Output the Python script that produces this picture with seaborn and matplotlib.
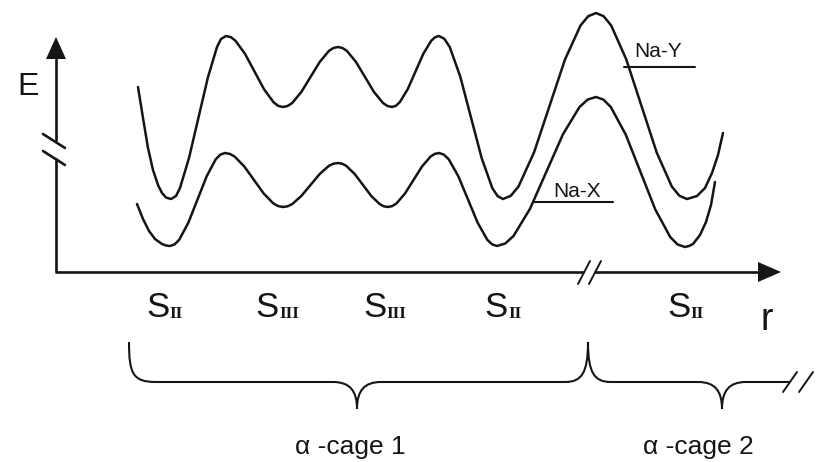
import matplotlib
matplotlib.use("Agg")
import matplotlib.pyplot as plt
from matplotlib.patches import Polygon, PathPatch
from matplotlib.path import Path
import numpy as np
import pandas as pd
import seaborn as sns

# ---------------- data (r = horizontal position, E = energy) -------------
r_nay = [138, 143, 148, 153, 158, 162, 166, 171,
         176, 180, 189, 198.5, 208, 217, 221, 226,
         231, 235.5, 245, 254.5, 264, 273.5, 278, 283,
         287.6, 292.2, 301.3, 310.5, 319.7, 328.8, 333.4, 338,
         342.5, 347, 356, 365, 374, 383, 387.5, 392,
         395.9, 399.8, 407.7, 415.5, 423.3, 431.2, 435.1, 439,
         444.3, 449.7, 460.3, 471, 481.7, 492.3, 497.7, 503,
         510.75, 518.5, 534, 549.5, 565, 580.5, 588.25, 596,
         603.6, 611.2, 626.3, 641.5, 656.7, 671.8, 679.4, 687,
         697, 705, 712, 718, 723]
E_nay = [375, 344, 314, 292, 277, 269, 264.5, 263,
         266, 274, 304, 344.5, 385, 415, 423, 426,
         424.8, 421.2, 408.2, 390.5, 372.8, 359.8, 356.2, 355,
         356, 359, 370, 385, 400, 411, 414, 415,
         414, 411, 400, 385, 370, 359, 356, 355,
         356.2, 359.8, 372.8, 390.5, 408.2, 421.2, 424.8, 426,
         423.2, 415.1, 385.3, 344.5, 303.8, 273.9, 265.8, 263,
         266.2, 275.5, 309.5, 356, 402.5, 436.5, 445.8, 449,
         445.8, 436.5, 402.5, 356, 309.5, 275.5, 266.2, 263,
         266, 274, 289, 307, 329]

r_nax = [137, 143, 149, 155, 162, 166, 170,
         174.6, 179.2, 188.3, 197.5, 206.7, 215.8, 220.4, 225,
         229.8, 234.7, 244.3, 254, 263.7, 273.3, 278.2, 283,
         287.6, 292.2, 301.3, 310.5, 319.7, 328.8, 333.4, 338,
         342.2, 346.3, 354.7, 363, 371.3, 379.7, 383.8, 388,
         392.25, 396.5, 405, 413.5, 422, 430.5, 434.75, 439,
         443.8, 448.7, 458.3, 468, 477.7, 487.3, 492.2, 497,
         505.25, 513.5, 530, 546.5, 563, 579.5, 587.75, 596,
         603.4, 610.8, 625.7, 640.5, 655.3, 670.2, 677.6, 685,
         689, 693, 700, 706, 711, 715]
E_nax = [258, 243, 231, 223, 218, 216.5, 216,
         217.6, 222.2, 239.2, 262.5, 285.8, 302.8, 307.4, 309,
         308.1, 305.4, 295.5, 282, 268.5, 258.6, 255.9, 255,
         255.7, 257.9, 266, 277, 288, 296.1, 298.3, 299,
         298.3, 296.1, 288, 277, 266, 257.9, 255.7, 255,
         255.9, 258.6, 268.5, 282, 295.5, 305.4, 308.1, 309,
         307.4, 302.8, 285.8, 262.5, 239.2, 222.2, 217.6, 216,
         218.5, 226, 253.2, 290.5, 327.8, 355, 362.5, 365,
         362.4, 355, 327.5, 290, 252.5, 225, 217.5, 215,
         216, 218, 227, 240, 257, 280]

series_names = ["Na-Y", "Na-X"]
site_main = ["S", "S", "S", "S", "S"]
site_sub = ["II", "III", "III", "II", "II"]
cage_labels = ["\u03b1 -cage 1", "\u03b1 -cage 2"]

# ---------------- layout (figure pixel-based coordinates, y measured upward) -------------
W, H = 819, 462
site_x = [157.5, 267, 375, 496.5, 679]
site_sub_x = [169.5, 279, 386.5, 508.5, 690.5]
cage_x = [350, 698]

sns.set_theme(style="white")
plt.rcParams["font.family"] = ["Liberation Sans", "DejaVu Sans"]

fig = plt.figure(figsize=(W / 100, H / 100), dpi=100)
ax = fig.add_axes([0, 0, 1, 1])
ax.set_xlim(0, W)
ax.set_ylim(0, H)
ax.axis("off")

ink = "#151515"

df = pd.concat([
    pd.DataFrame({"r": r_nay, "E": E_nay, "series": series_names[0]}),
    pd.DataFrame({"r": r_nax, "E": E_nax, "series": series_names[1]}),
])
sns.lineplot(data=df, x="r", y="E", hue="series", units="series", estimator=None,
             sort=False, palette={series_names[0]: ink, series_names[1]: ink},
             linewidth=1.8, legend=False, ax=ax, solid_joinstyle="round", solid_capstyle="round")

axlw = 1.9
# y axis (with break)
ax.plot([56, 56], [190, 304], color=ink, lw=axlw, solid_capstyle="butt")
ax.plot([56, 56], [321, 405], color=ink, lw=axlw, solid_capstyle="butt")
ax.plot([43, 65], [328, 314], color=ink, lw=axlw)
ax.plot([43, 65], [311, 297], color=ink, lw=axlw)
ax.add_patch(Polygon([[56, 425], [46, 403], [66, 403]], closed=True, color=ink, lw=0))
# x axis (with break)
ax.plot([55, 584], [190, 190], color=ink, lw=axlw, solid_capstyle="butt")
ax.plot([594, 760], [190, 190], color=ink, lw=axlw, solid_capstyle="butt")
ax.plot([578, 590], [178, 201], color=ink, lw=1.4)
ax.plot([589, 601], [178, 201], color=ink, lw=1.4)
ax.add_patch(Polygon([[781, 190], [758, 200], [758, 180]], closed=True, color=ink, lw=0))

# labels
ax.text(28, 367, "E", fontsize=23, color=ink, ha="center", va="baseline")
ax.text(767, 132, "r", fontsize=27, color=ink, ha="center", va="baseline")
ax.text(658, 405, series_names[0], fontsize=15, color=ink, ha="center", va="baseline")
ax.plot([624, 695], [395, 395], color=ink, lw=1.5)
ax.text(577.5, 265, series_names[1], fontsize=15, color=ink, ha="center", va="baseline")
ax.plot([533, 613], [260, 260], color=ink, lw=1.5)

for sx, ssx, m, s in zip(site_x, site_sub_x, site_main, site_sub):
    ax.text(sx, 145, m, fontsize=25, color=ink, ha="center", va="baseline")
    ax.text(ssx, 144, s, fontsize=12.5, color=ink, ha="left", va="baseline",
            family=["Liberation Serif", "DejaVu Serif"], fontweight="bold")

# curly braces
Y = lambda y: H - y
verts = [
    (129, Y(342)), (129, Y(374)), (133, Y(382)), (156, Y(382)),
    (333, Y(382)),
    (350, Y(382)), (357, Y(391)), (357, Y(409)),
    (357, Y(391)), (364, Y(382)), (381, Y(382)),
    (565, Y(382)),
    (581, Y(382)), (588, Y(374)), (588, Y(342)),
    (588, Y(374)), (595, Y(382)), (611, Y(382)),
    (698, Y(382)),
    (715, Y(382)), (722, Y(391)), (722, Y(409)),
    (722, Y(391)), (729, Y(382)), (746, Y(382)),
    (790, Y(382)),
]
codes = [Path.MOVETO, Path.CURVE4, Path.CURVE4, Path.CURVE4,
         Path.LINETO,
         Path.CURVE4, Path.CURVE4, Path.CURVE4,
         Path.CURVE4, Path.CURVE4, Path.CURVE4,
         Path.LINETO,
         Path.CURVE4, Path.CURVE4, Path.CURVE4,
         Path.CURVE4, Path.CURVE4, Path.CURVE4,
         Path.LINETO,
         Path.CURVE4, Path.CURVE4, Path.CURVE4,
         Path.CURVE4, Path.CURVE4, Path.CURVE4,
         Path.LINETO]
ax.add_patch(PathPatch(Path(verts, codes), facecolor="none", edgecolor=ink, lw=1.5))
ax.plot([783, 797], [Y(392), Y(372)], color=ink, lw=1.4)
ax.plot([799, 813], [Y(392), Y(372)], color=ink, lw=1.4)

for cx, lab in zip(cage_x, cage_labels):
    ax.text(cx, 8, lab, fontsize=19, color=ink, ha="center", va="baseline")

fig.savefig("out.png", dpi=100, facecolor="white")
